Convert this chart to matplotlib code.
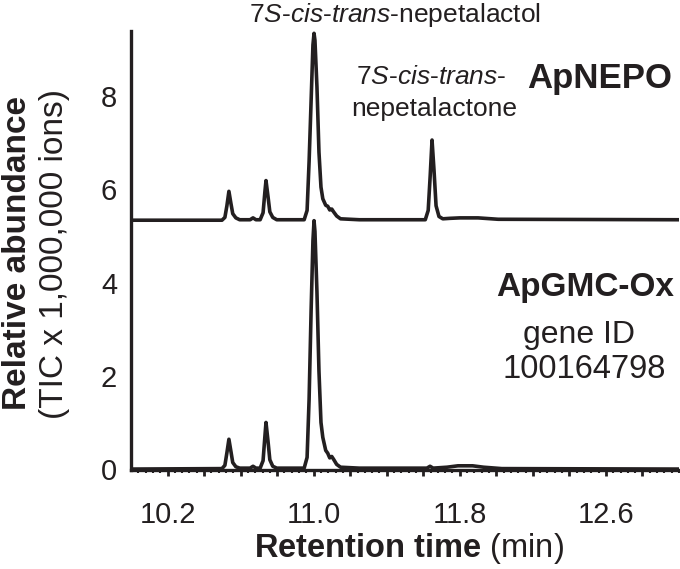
import numpy as np
import matplotlib
matplotlib.use("Agg")
import matplotlib.pyplot as plt

plt.rcParams['font.family'] = ['Liberation Sans', 'DejaVu Sans']
plt.rcParams['mathtext.fontset'] = 'custom'
plt.rcParams['mathtext.rm'] = 'Liberation Sans'
plt.rcParams['mathtext.it'] = 'Liberation Sans:italic'
plt.rcParams['mathtext.bf'] = 'Liberation Sans:bold'

# ApNEPO trace (offset upward in the figure), retention time in min
apnepo_rt = [10.000, 10.498, 10.514, 10.525, 10.536, 10.547, 10.557, 10.574, 10.595,
             10.652, 10.668, 10.684, 10.707, 10.723, 10.733, 10.739, 10.750, 10.760,
             10.776, 10.798, 10.948, 10.964, 10.975, 10.986, 10.996, 11.002, 11.007,
             11.018, 11.029, 11.040, 11.050, 11.066, 11.077, 11.088, 11.099, 11.109,
             11.126, 11.147, 11.250, 11.611, 11.627, 11.638, 11.648, 11.659, 11.670,
             11.686, 11.707, 11.745, 11.800, 11.900, 12.010, 13.000]
apnepo_tic = [5.34, 5.34, 5.40, 5.65, 5.96, 5.70, 5.48, 5.39, 5.35,
              5.35, 5.39, 5.35, 5.35, 5.50, 5.95, 6.19, 5.85, 5.52,
              5.40, 5.35, 5.35, 5.55, 6.60, 7.90, 9.10, 9.35, 9.20,
              8.20, 6.80, 6.05, 5.80, 5.66, 5.64, 5.56, 5.58, 5.52,
              5.43, 5.37, 5.35, 5.35, 5.55, 6.30, 7.06, 6.40, 5.65,
              5.42, 5.37, 5.38, 5.39, 5.39, 5.36, 5.35]

# ApGMC-Ox trace
apgmc_rt = [10.000, 10.498, 10.514, 10.525, 10.536, 10.547, 10.557, 10.574, 10.595,
            10.652, 10.668, 10.684, 10.707, 10.723, 10.733, 10.739, 10.750, 10.760,
            10.776, 10.798, 10.948, 10.964, 10.975, 10.986, 10.996, 11.002, 11.007,
            11.018, 11.029, 11.040, 11.050, 11.066, 11.077, 11.088, 11.099, 11.109,
            11.126, 11.147, 11.250, 11.620, 11.637, 11.654, 11.730, 11.790, 11.870,
            11.930, 12.030, 13.000]
apgmc_tic = [0.00, 0.01, 0.08, 0.35, 0.64, 0.38, 0.14, 0.05, 0.02,
             0.02, 0.06, 0.02, 0.02, 0.18, 0.70, 1.00, 0.60, 0.20,
             0.06, 0.02, 0.02, 0.25, 1.50, 3.40, 4.90, 5.33, 5.10,
             3.80, 2.10, 1.00, 0.68, 0.40, 0.34, 0.24, 0.27, 0.21,
             0.10, 0.04, 0.02, 0.02, 0.06, 0.02, 0.04, 0.07, 0.07,
             0.04, 0.01, 0.00]

xtick_pos = [10.2, 10.4, 10.6, 10.8, 11.0, 11.2, 11.4, 11.6, 11.8, 12.0, 12.2, 12.4, 12.6, 12.8]
xtick_lab = ['10.2', '', '', '', '11.0', '', '', '', '11.8', '', '', '', '12.6', '']
ytick_pos = [0, 2, 4, 6, 8]

W, H = 680, 569
tc = '#231f20'
fig = plt.figure(figsize=(W / 100, H / 100), dpi=100)
ax = fig.add_axes([131 / W, 1 - 470 / H, (679 - 131) / W, (470 - 31) / H])

ax.plot(apnepo_rt, apnepo_tic, color=tc, lw=2.6, solid_joinstyle='round')
ax.plot(apgmc_rt, apgmc_tic, color=tc, lw=2.6, solid_joinstyle='round')

ax.set_xlim(10.0, 13.0)
ax.set_ylim(-0.02, 9.4)
for s in ['top', 'right']:
    ax.spines[s].set_visible(False)
for s in ['left', 'bottom']:
    ax.spines[s].set_linewidth(2.4)
    ax.spines[s].set_color(tc)

ax.set_xticks(xtick_pos)
ax.set_xticklabels(xtick_lab)
ax.set_xticks(np.arange(10.04, 13.0, 0.04), minor=True)
ax.tick_params(axis='x', which='major', direction='out', length=4, width=2, pad=18,
               labelsize=21, color=tc, labelcolor=tc)
ax.tick_params(axis='x', which='minor', direction='out', length=2, width=1.5, color=tc)
ax.set_yticks(ytick_pos)
ax.tick_params(axis='y', length=0, pad=10, labelsize=21, labelcolor=tc)

fig.text(395 / W, 1 - 22 / H, r'7$S$-$cis$-$trans$-nepetalactol', ha='center', va='baseline',
         fontsize=19, color=tc)
fig.text(431 / W, 1 - 84 / H, r'7$S$-$cis$-$trans$-', ha='center', va='baseline',
         fontsize=19, color=tc)
fig.text(434 / W, 1 - 116 / H, 'nepetalactone', ha='center', va='baseline', fontsize=19, color=tc)
fig.text(600 / W, 1 - 88 / H, 'ApNEPO', ha='center', va='baseline', fontsize=25,
         fontweight='bold', color=tc)
fig.text(585 / W, 1 - 296 / H, 'ApGMC-Ox', ha='center', va='baseline', fontsize=24,
         fontweight='bold', color=tc)
fig.text(579 / W, 1 - 343 / H, 'gene ID', ha='center', va='baseline', fontsize=23, color=tc)
fig.text(584 / W, 1 - 378 / H, '100164798', ha='center', va='baseline', fontsize=23.5, color=tc)

fig.text(18 / W, 1 - 253 / H, 'Relative abundance', rotation=90, ha='center', va='center',
         fontsize=24, fontweight='bold', color=tc)
fig.text(55 / W, 1 - 254 / H, '(TIC x 1,000,000 ions)', rotation=90, ha='center', va='center',
         fontsize=24, color=tc)
fig.text(409 / W, 1 - 557 / H, r'$\mathbf{Retention\ time}$ (min)', ha='center', va='baseline',
         fontsize=23.5, color=tc)

fig.savefig('out.png', dpi=100)
